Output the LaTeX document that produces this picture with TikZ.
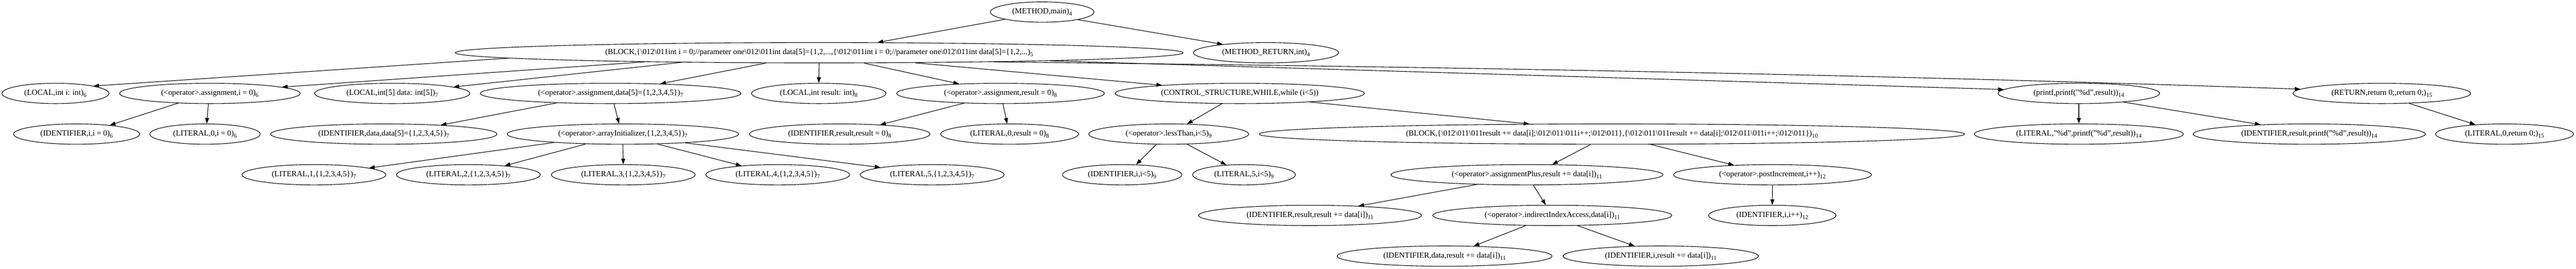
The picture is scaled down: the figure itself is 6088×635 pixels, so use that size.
\documentclass[tikz,border=0pt]{standalone}
\usepackage{fontspec}
\setmainfont{Liberation Serif}
\usetikzlibrary{shapes.geometric,arrows.meta}
\newcommand{\gvsub}[1]{\raisebox{-4pt}{\fontsize{10.5}{11}\selectfont #1}}
\newcommand{\gvl}[2]{\hbox to 0pt{\hss #1\gvsub{#2}\hss}}
\newcommand{\gvt}[1]{\hbox to 0pt{\hss #1\hss}}
\newcommand{\gvbs}{\textbackslash}
\begin{document}
\begin{tikzpicture}[x=0.75pt,y=-0.75pt,
  gv/.style={ellipse, draw, line width=1pt, inner sep=0pt, minimum height=36pt,
    minimum width=#1*0.75pt, font=\fontsize{14}{16}\selectfont},
  ed/.style={line width=1pt, -{Triangle[length=10pt,width=7pt]}}]
\useasboundingbox[fill=white] (0,0) rectangle (6088,635);
% rank 0
\node[gv=245] (mth) at (2463,28.5) {\gvl{(METHOD,main)}{4}};
% rank 1
\node[gv=1720] (blk) at (1936,124.6) {\gvl{(BLOCK,\{\gvbs 012\gvbs 011int i = 0;//parameter one\gvbs 012\gvbs 011int data[5]=\{1,2,...,\{\gvbs 012\gvbs 011int i = 0;//parameter one\gvbs 012\gvbs 011int data[5]=\{1,2,...)}{5}};
\node[gv=343] (mret) at (2992,124.6) {\gvl{(METHOD\_RETURN,int)}{4}};
% rank 2
\node[gv=253] (li) at (131,220.7) {\gvl{(LOCAL,int i: int)}{6}};
\node[gv=427] (ai) at (496,220.7) {\gvl{(<operator>.assignment,i = 0)}{6}};
\node[gv=367] (ld) at (927,220.7) {\gvl{(LOCAL,int[5] data: int[5])}{7}};
\node[gv=616] (ad) at (1443,220.7) {\gvl{(<operator>.assignment,data[5]=\{1,2,3,4,5\})}{7}};
\node[gv=318] (lr) at (1935,220.7) {\gvl{(LOCAL,int result: int)}{8}};
\node[gv=491] (ar) at (2364.5,220.7) {\gvl{(<operator>.assignment,result = 0)}{8}};
\node[gv=589] (cs) at (2930,220.7) {\gvt{(CONTROL\_STRUCTURE,WHILE,while (i<5))}};
\node[gv=382] (pf) at (4913,220.7) {\gvl{(printf,printf("\%d",result))}{14}};
\node[gv=420] (rt) at (5629,220.7) {\gvl{(RETURN,return 0;,return 0;)}{15}};
% rank 3
\node[gv=298] (idi) at (181,316.8) {\gvl{(IDENTIFIER,i,i = 0)}{6}};
\node[gv=261] (loi) at (484.5,316.8) {\gvl{(LITERAL,0,i = 0)}{6}};
\node[gv=535] (idd) at (907,316.8) {\gvl{(IDENTIFIER,data,data[5]=\{1,2,3,4,5\})}{7}};
\node[gv=547] (arr) at (1472,316.8) {\gvl{(<operator>.arrayInitializer,\{1,2,3,4,5\})}{7}};
\node[gv=427] (idr) at (1984.5,316.8) {\gvl{(IDENTIFIER,result,result = 0)}{8}};
\node[gv=326] (lor) at (2386,316.8) {\gvl{(LITERAL,0,result = 0)}{8}};
\node[gv=378] (lt) at (2762,316.8) {\gvl{(<operator>.lessThan,i<5)}{9}};
\node[gv=1667] (blkb) at (3809.5,316.8) {\gvl{(BLOCK,\{\gvbs 012\gvbs 011\gvbs 011result += data[i];\gvbs 012\gvbs 011\gvbs 011i++;\gvbs 012\gvbs 011\},\{\gvbs 012\gvbs 011\gvbs 011result += data[i];\gvbs 012\gvbs 011\gvbs 011i++;\gvbs 012\gvbs 011\})}{10}};
\node[gv=494] (lpd) at (4913,316.8) {\gvl{(LITERAL,"\%d",printf("\%d",result))}{14}};
\node[gv=549] (idp) at (5457.5,316.8) {\gvl{(IDENTIFIER,result,printf("\%d",result))}{14}};
\node[gv=326] (lort) at (5919,316.8) {\gvl{(LITERAL,0,return 0;)}{15}};
% rank 4
\node[gv=340] (la) at (742,412.9) {\gvl{(LITERAL,1,\{1,2,3,4,5\})}{7}};
\node[gv=340] (lb) at (1107,412.9) {\gvl{(LITERAL,2,\{1,2,3,4,5\})}{7}};
\node[gv=340] (lc) at (1473,412.9) {\gvl{(LITERAL,3,\{1,2,3,4,5\})}{7}};
\node[gv=340] (ldd) at (1838,412.9) {\gvl{(LITERAL,4,\{1,2,3,4,5\})}{7}};
\node[gv=340] (le) at (2203,412.9) {\gvl{(LITERAL,5,\{1,2,3,4,5\})}{7}};
\node[gv=282] (idlt) at (2652,412.9) {\gvl{(IDENTIFIER,i,i<5)}{9}};
\node[gv=243] (lflt) at (2940,412.9) {\gvl{(LITERAL,5,i<5)}{9}};
\node[gv=643] (ap) at (3608.5,412.9) {\gvl{(<operator>.assignmentPlus,result += data[i])}{11}};
\node[gv=468] (pi) at (4189,412.9) {\gvl{(<operator>.postIncrement,i++)}{12}};
% rank 5
\node[gv=527] (idrp) at (3096,509) {\gvl{(IDENTIFIER,result,result += data[i])}{11}};
\node[gv=565] (iia) at (3668.5,509) {\gvl{(<operator>.indirectIndexAccess,data[i])}{11}};
\node[gv=301] (idii) at (4188.5,509) {\gvl{(IDENTIFIER,i,i++)}{12}};
% rank 6
\node[gv=508] (iddr) at (3414,605.1) {\gvl{(IDENTIFIER,data,result += data[i])}{11}};
\node[gv=462] (idir) at (3925,605.1) {\gvl{(IDENTIFIER,i,result += data[i])}{11}};
% edges
\draw[ed] (mth.191.62) -- (blk.10.88);
\draw[ed] (mth.348.5) -- (mret.169.96);
\draw[ed] (blk.181.05) -- (li.11.56);
\draw[ed] (blk.183.16) -- (ai.5.99);
\draw[ed] (blk.184.70) -- (ld.6.84);
\draw[ed] (blk.191.26) -- (ad.11.02);
\draw[ed] (blk.270) -- (lr.90);
\draw[ed] (blk.347.16) -- (ar.167.7);
\draw[ed] (blk.354.29) -- (cs.174.18);
\draw[ed] (blk.358.10) -- (pf.177.86);
\draw[ed] (blk.357.92) .. controls (3500,159) and (4435,176.6) .. (rt.177.02);
\draw[ed] (ai.197.95) -- (idi.15.88);
\draw[ed] (ai.262) -- (loi.81.4);
\draw[ed] (ad.190.7) -- (idd.9.64);
\draw[ed] (ad.288.2) -- (arr.110.6);
\draw[ed] (arr.187.94) -- (la.7.31);
\draw[ed] (arr.195.27) -- (lb.14.82);
\draw[ed] (arr.270) -- (lc.90);
\draw[ed] (arr.344.73) -- (ldd.166.03);
\draw[ed] (arr.352.21) -- (le.172.69);
\draw[ed] (ar.195.35) -- (idr.13.62);
\draw[ed] (ar.283.3) -- (lor.103.6);
\draw[ed] (cs.210.47) -- (lt.29.4);
\draw[ed] (cs.353.6) -- (blkb.173.62);
\draw[ed] (lt.220.84) -- (idlt.36.75);
\draw[ed] (lt.331.2) -- (lflt.151.55);
\draw[ed] (blkb.206.05) -- (ap.22.93);
\draw[ed] (blkb.345.49) -- (pi.166.49);
\draw[ed] (ap.191.03) -- (idrp.11.5);
\draw[ed] (ap.302) -- (iia.122.64);
\draw[ed] (pi.270) -- (idii.90);
\draw[ed] (iia.201.31) -- (iddr.19.96);
\draw[ed] (iia.338.55) -- (idir.159.86);
\draw[ed] (pf.270) -- (lpd.90);
\draw[ed] (pf.349.04) -- (idp.169.21);
\draw[ed] (rt.340.83) -- (lort.162.19);
\end{tikzpicture}
\end{document}
